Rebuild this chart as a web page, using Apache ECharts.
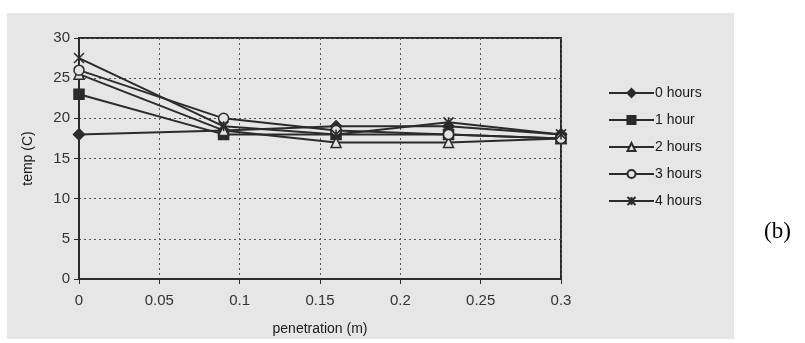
<!DOCTYPE html>
<html>
<head>
<meta charset="utf-8">
<script src="https://cdn.jsdelivr.net/npm/echarts@6/dist/echarts.min.js"></script>
<style>
  html, body { margin: 0; padding: 0; background: #fff; }
  #chart { width: 805px; height: 343px; }
</style>
</head>
<body>
<div id="chart"></div>
<script>
  // penetration depth (m)
  var penetration = [0, 0.09, 0.16, 0.23, 0.3];
  var hours0 = [18, 18.5, 19, 19, 18];
  var hours1 = [23, 18, 18, 18, 17.5];
  var hours2 = [25.5, 18.5, 17, 17, 17.5];
  var hours3 = [26, 20, 18.5, 18, 17.5];
  var hours4 = [27.5, 19, 18, 19.5, 18];
  var seriesNames = ['0 hours', '1 hour', '2 hours', '3 hours', '4 hours'];

  var ink = '#2b2b2b';
  var star = 'path://M0,0 L10,10 M10,0 L0,10 M5,0 L5,10';

  function pairs(ys) {
    var out = [];
    for (var i = 0; i < penetration.length; i++) {
      out.push([penetration[i], ys[i]]);
    }
    return out;
  }

  function makeSeries(name, ys, symbol, size, filled) {
    return {
      name: name,
      type: 'line',
      data: pairs(ys),
      symbol: symbol,
      symbolSize: size,
      showSymbol: true,
      lineStyle: { color: ink, width: 2 },
      itemStyle: {
        color: filled ? ink : '#e4e4e4',
        borderColor: ink,
        borderWidth: 1.5
      },
      emphasis: { disabled: true }
    };
  }

  var myChart = echarts.init(document.getElementById('chart'));
  var option = {
    animation: false,
    backgroundColor: '#fff',
    textStyle: { fontFamily: 'Liberation Sans, Arial, sans-serif' },
    graphic: [
      {
        type: 'rect',
        z: -10,
        shape: { x: 7, y: 13, width: 727, height: 326 },
        style: { fill: '#e6e6e6' }
      },
      {
        type: 'text',
        left: 764,
        top: 220,
        style: { text: '(b)', font: '23px "Liberation Serif", "DejaVu Serif", serif', fill: '#000' }
      }
    ],
    legend: {
      orient: 'vertical',
      left: 603,
      top: 81,
      itemGap: 13,
      itemWidth: 45,
      itemHeight: 10,
      data: seriesNames,
      textStyle: { fontSize: 14, color: '#1a1a1a', padding: [0, 0, 0, -4] }
    },
    grid: {
      left: 79,
      right: 244,
      top: 38,
      bottom: 64,
      show: true,
      borderColor: ink,
      borderWidth: 2,
      backgroundColor: 'transparent'
    },
    xAxis: {
      type: 'value',
      min: 0,
      max: 0.3,
      interval: 0.05,
      name: 'penetration (m)',
      nameLocation: 'middle',
      nameGap: 43,
      nameTextStyle: { fontSize: 14, color: '#1a1a1a' },
      axisLine: { lineStyle: { color: ink, width: 2 } },
      axisTick: { show: true, length: 5, lineStyle: { color: ink } },
      axisLabel: { fontSize: 15, color: '#333', margin: 14 },
      splitLine: { show: true, lineStyle: { color: '#555', type: [2, 3], width: 1 } }
    },
    yAxis: {
      type: 'value',
      min: 0,
      max: 30,
      interval: 5,
      name: 'temp (C)',
      nameLocation: 'middle',
      nameGap: 44,
      nameRotate: 90,
      nameTextStyle: { fontSize: 14, color: '#1a1a1a' },
      axisLine: { show: true, lineStyle: { color: ink, width: 2 } },
      axisTick: { show: true, length: 5, lineStyle: { color: ink } },
      axisLabel: { fontSize: 15, color: '#333', margin: 9 },
      splitLine: { show: true, lineStyle: { color: '#555', type: [2, 3], width: 1 } }
    },
    series: [
      makeSeries(seriesNames[0], hours0, 'diamond', 11, true),
      makeSeries(seriesNames[1], hours1, 'rect', 10, true),
      makeSeries(seriesNames[2], hours2, 'triangle', 10, false),
      makeSeries(seriesNames[3], hours3, 'circle', 10, false),
      makeSeries(seriesNames[4], hours4, star, 10, true)
    ]
  };
  myChart.setOption(option);
  window.addEventListener('resize', function () {
    myChart.resize();
  });
</script>
</body>
</html>
